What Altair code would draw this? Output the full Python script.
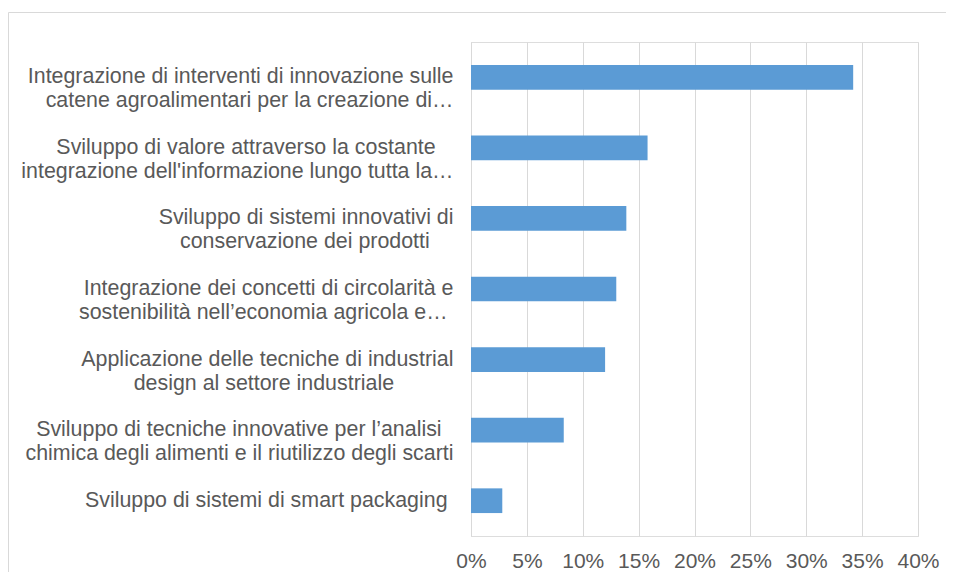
import altair as alt
import pandas as pd

# ---- data -------------------------------------------------------------
label_lines = [
    ["Integrazione di interventi di innovazione sulle",
     "catene agroalimentari per la creazione di…"],
    ["Sviluppo di valore attraverso la costante",
     "integrazione dell'informazione lungo tutta la…"],
    ["Sviluppo di sistemi innovativi di",
     "conservazione dei prodotti"],
    ["Integrazione dei concetti di circolarità e",
     "sostenibilità nell’economia agricola e…"],
    ["Applicazione delle tecniche di industrial",
     "design al settore industriale"],
    ["Sviluppo di tecniche innovative per l’analisi",
     "chimica degli alimenti e il riutilizzo degli scarti"],
    ["Sviluppo di sistemi di smart packaging"],
]
values = [0.342, 0.158, 0.139, 0.130, 0.120, 0.083, 0.028]
x_ticks = [0, 0.05, 0.10, 0.15, 0.20, 0.25, 0.30, 0.35, 0.40]

# ---- styling ------------------------------------------------------------
# trailing no-break spaces (kept from trimming by a zero-width space) to
# centre shorter lines inside each right-aligned label block
NBSP_PAD = [[0, 0], [3, 0], [0, 4], [0, 1], [0, 10], [2, 0], [1]]
FONT = "Liberation Sans"
TEXT = "#595959"
GRID = "#d9d9d9"
BAR = "#5B9BD5"


def pad(line, n):
    return line + ("\u00a0" * n + "\u200b" if n else "")


labels = []
for lines, pads in zip(label_lines, NBSP_PAD):
    labels.append("|".join(pad(l, p) for l, p in zip(lines, pads)))

df = pd.DataFrame({"cat": labels, "val": values})

bars = alt.Chart(df).mark_bar(color=BAR).encode(
    x=alt.X("val:Q",
            scale=alt.Scale(domain=[0, 0.4], nice=False, zero=True),
            axis=alt.Axis(values=x_ticks, format=".0%", title=None,
                          grid=True, gridColor=GRID, gridWidth=1,
                          domain=False, ticks=False,
                          labelFont=FONT, labelFontSize=21, labelColor=TEXT,
                          labelPadding=14, labelFlush=False)),
    y=alt.Y("cat:N", sort=None,
            scale=alt.Scale(paddingInner=0.65, paddingOuter=0.325),
            axis=alt.Axis(title=None, ticks=False, domain=True,
                          domainColor=GRID, domainWidth=1,
                          labelExpr="split(datum.label, '|')",
                          labelFont=FONT, labelFontSize=21.4, labelColor=TEXT,
                          labelLineHeight=24, labelAlign="right",
                          labelPadding=18, labelLimit=600)),
)

one = pd.DataFrame({"k": [0]})
frame_top = alt.Chart(one).mark_rule(color=GRID, strokeWidth=1).encode(
    x=alt.value(-462.5), x2=alt.value(475), y=alt.value(-29.5))
frame_left = alt.Chart(one).mark_rule(color=GRID, strokeWidth=1).encode(
    x=alt.value(-462.5), y=alt.value(-29.5), y2=alt.value(530))

chart = alt.layer(frame_top, frame_left, bars).properties(
    width=447, height=494,
    padding={"left": 0, "top": 4, "right": 0, "bottom": 0},
).configure_view(stroke=None).configure(background="white")

chart.save("out.html", embed_options={"renderer": "svg", "actions": False})
